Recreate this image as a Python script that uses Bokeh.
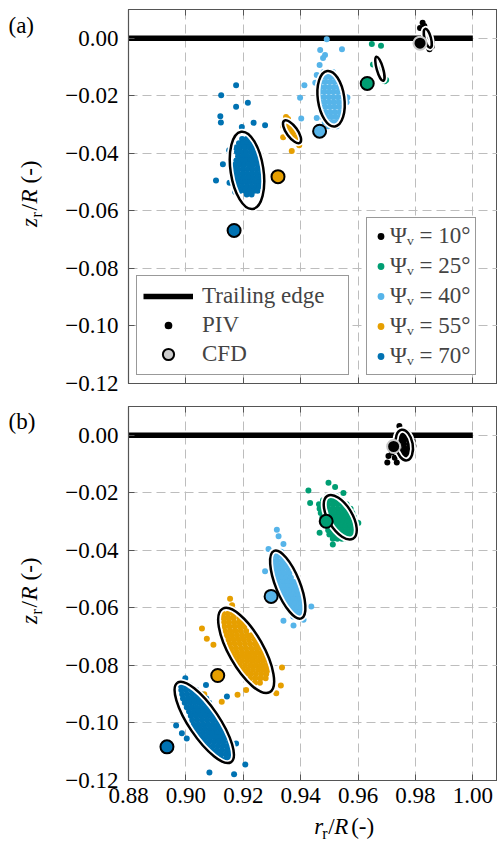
import math
from bokeh.plotting import figure
from bokeh.models import (Range1d, FixedTicker, CustomJSTickFormatter, LinearAxis,
                          Legend, LegendItem)
from bokeh.layouts import column, row
from bokeh.core.properties import value
from bokeh.embed import file_html
from bokeh.resources import INLINE

FONT = "Liberation Serif"
FS = "23px"

# ---------------- data ----------------
x_ticks = [0.88, 0.90, 0.92, 0.94, 0.96, 0.98, 1.00]
y_ticks = [-0.12, -0.10, -0.08, -0.06, -0.04, -0.02, 0.00]
angle_labels = ["Ψᵥ = 10°", "Ψᵥ = 25°", "Ψᵥ = 40°", "Ψᵥ = 55°", "Ψᵥ = 70°"]
colors = ["#000000", "#009e73", "#56b4e9", "#e69f00", "#0072b2"]

te_r = [0.88, 1.00]
te_z = [0.0, 0.0]

# CFD vortex positions (10, 25, 40, 55, 70 deg)
cfd_a_r = [0.9816, 0.9632, 0.9466, 0.9321, 0.9168]
cfd_a_z = [-0.0017, -0.0157, -0.0323, -0.0481, -0.0668]
cfd_b_r = [0.9724, 0.9489, 0.9297, 0.9111, 0.8934]
cfd_b_z = [-0.0039, -0.0299, -0.0560, -0.0835, -0.1083]

# PIV ellipses: centre r, centre z, major, minor, angle (deg)
ell_a_r = [0.9843, 0.9676, 0.9506, 0.9370, 0.9213]
ell_a_z = [0.0000, -0.0106, -0.0210, -0.0325, -0.0459]
ell_a_w = [0.0068, 0.0087, 0.0195, 0.0094, 0.0272]
ell_a_h = [0.0022, 0.0022, 0.0092, 0.0038, 0.0114]
ell_a_ang = [105, 106, 98, 126, 98.6]

ell_b_r = [0.9761, 0.9538, 0.9355, 0.9210, 0.9064]
ell_b_z = [-0.0034, -0.0285, -0.0519, -0.0748, -0.0998]
ell_b_w = [0.0108, 0.0174, 0.0254, 0.0334, 0.0334]
ell_b_h = [0.0059, 0.0084, 0.0084, 0.0120, 0.0106]
ell_b_ang = [100, 121, 112, 119.5, 124]

# PIV instantaneous vortex positions, panel (a)
piv_a10 = [(0.9825, 0.0054), (0.9831, 0.0043), (0.9816, 0.0036), (0.9840, 0.0023),
           (0.9851, 0.0006), (0.9857, -0.0013), (0.9857, -0.0029), (0.9849, -0.0038),
           (0.9834, 0.0029), (0.9844, -0.0006), (0.9830, 0.0011), (0.9838, -0.0020),
           (0.9846, 0.0012)]
piv_a25 = [(0.9667, -0.0069), (0.9670, -0.0083), (0.9677, -0.0097), (0.9681, -0.0110),
           (0.9684, -0.0124), (0.9688, -0.0138), (0.9693, -0.0149), (0.9648, -0.0020),
           (0.9680, -0.0026), (0.9652, -0.0091), (0.9698, -0.0145)]
piv_a40_rows = [
    (-0.0117, [0.9480, 0.9496, 0.9512]),
    (-0.0135, [0.9474, 0.9490, 0.9506, 0.9522]),
    (-0.0152, [0.9470, 0.9486, 0.9502, 0.9518, 0.9532]),
    (-0.0170, [0.9468, 0.9484, 0.9500, 0.9516, 0.9532, 0.9542]),
    (-0.0187, [0.9466, 0.9482, 0.9498, 0.9514, 0.9530, 0.9546]),
    (-0.0205, [0.9466, 0.9482, 0.9498, 0.9514, 0.9530, 0.9546, 0.9558]),
    (-0.0222, [0.9468, 0.9484, 0.9500, 0.9516, 0.9532, 0.9548, 0.9560]),
    (-0.0239, [0.9470, 0.9486, 0.9502, 0.9518, 0.9534, 0.9548]),
    (-0.0257, [0.9472, 0.9488, 0.9504, 0.9520, 0.9536, 0.9548]),
    (-0.0274, [0.9476, 0.9492, 0.9508, 0.9524, 0.9540]),
    (-0.0292, [0.9484, 0.9500, 0.9516, 0.9532]),
    (-0.0306, [0.9496, 0.9512, 0.9526]),
]
piv_a40_out = [(0.9491, -0.0003), (0.9468, -0.0041), (0.9485, -0.0058), (0.9544, -0.0038),
               (0.9466, -0.0093), (0.9451, -0.0155), (0.9413, -0.0163), (0.9398, -0.0207),
               (0.9402, -0.0279), (0.9563, -0.0206), (0.9456, -0.0128), (0.9456, -0.0277),
               (0.9478, -0.0069)]
piv_a55 = [(0.9349, -0.0288), (0.9360, -0.0299), (0.9353, -0.0313), (0.9367, -0.0313),
           (0.9363, -0.0326), (0.9377, -0.0326), (0.9370, -0.0340), (0.9384, -0.0344),
           (0.9381, -0.0358), (0.9391, -0.0361), (0.9356, -0.0281), (0.9339, -0.0344),
           (0.9369, -0.0392), (0.9339, -0.0306), (0.9349, -0.0274), (0.9395, -0.0372)]
piv_a70_rows = [
    (-0.0350, [0.9196, 0.9212, 0.9224]),
    (-0.0365, [0.9185, 0.9200, 0.9215, 0.9229]),
    (-0.0380, [0.9173, 0.9189, 0.9205, 0.9221, 0.9233]),
    (-0.0395, [0.9178, 0.9194, 0.9210, 0.9226, 0.9238]),
    (-0.0410, [0.9182, 0.9198, 0.9214, 0.9230, 0.9243]),
    (-0.0425, [0.9176, 0.9192, 0.9208, 0.9224, 0.9240, 0.9251]),
    (-0.0440, [0.9171, 0.9187, 0.9203, 0.9219, 0.9235, 0.9251, 0.9259]),
    (-0.0455, [0.9167, 0.9183, 0.9199, 0.9215, 0.9231, 0.9247, 0.9261]),
    (-0.0470, [0.9166, 0.9182, 0.9198, 0.9214, 0.9230, 0.9246, 0.9263]),
    (-0.0485, [0.9170, 0.9186, 0.9202, 0.9218, 0.9234, 0.9250, 0.9263]),
    (-0.0500, [0.9176, 0.9192, 0.9208, 0.9224, 0.9240, 0.9256]),
    (-0.0515, [0.9181, 0.9197, 0.9213, 0.9229, 0.9245, 0.9257]),
    (-0.0530, [0.9190, 0.9206, 0.9222, 0.9238, 0.9250]),
    (-0.0543, [0.9212, 0.9229]),
]
piv_a70_out = [(0.9175, -0.0163), (0.9123, -0.0198), (0.9175, -0.0238), (0.9216, -0.0224),
               (0.9120, -0.0271), (0.9122, -0.0293), (0.9195, -0.0308), (0.9236, -0.0294),
               (0.9276, -0.0302), (0.9129, -0.0438), (0.9105, -0.0494), (0.9152, -0.0502),
               (0.9151, -0.0389), (0.9172, -0.0534)]

# PIV instantaneous vortex positions, panel (b)
piv_b10 = [(0.9744, 0.0032), (0.9758, 0.0012), (0.9772, 0.0010), (0.9750, -0.0004),
           (0.9766, -0.0002), (0.9782, -0.0005), (0.9745, -0.0020), (0.9790, -0.0020),
           (0.9742, -0.0038), (0.9793, -0.0037), (0.9747, -0.0055), (0.9790, -0.0055),
           (0.9755, -0.0070), (0.9782, -0.0072), (0.9768, -0.0080), (0.9706, -0.0072),
           (0.9702, -0.0095), (0.9735, -0.0095), (0.9718, -0.0060), (0.9728, -0.0078),
           (0.9760, -0.0015), (0.9775, -0.0015), (0.9760, -0.0030), (0.9778, -0.0030),
           (0.9762, -0.0045), (0.9778, -0.0045), (0.9765, -0.0060), (0.9780, -0.0060),
           (0.9770, 0.0000), (0.9770, -0.0075)]
piv_b25_rows = [
    (-0.0212, [0.9492, 0.9508, 0.9524]),
    (-0.0226, [0.9478, 0.9494, 0.9510, 0.9526, 0.9542]),
    (-0.0240, [0.9464, 0.9480, 0.9496, 0.9512, 0.9528, 0.9544, 0.9560]),
    (-0.0255, [0.9466, 0.9482, 0.9498, 0.9514, 0.9530, 0.9546, 0.9562, 0.9574]),
    (-0.0270, [0.9470, 0.9486, 0.9502, 0.9518, 0.9534, 0.9550, 0.9566, 0.9580]),
    (-0.0285, [0.9476, 0.9492, 0.9508, 0.9524, 0.9540, 0.9556, 0.9572, 0.9586]),
    (-0.0300, [0.9484, 0.9500, 0.9516, 0.9532, 0.9548, 0.9564, 0.9580, 0.9590]),
    (-0.0315, [0.9492, 0.9508, 0.9524, 0.9540, 0.9556, 0.9572, 0.9588]),
    (-0.0330, [0.9496, 0.9512, 0.9528, 0.9544, 0.9560, 0.9576]),
    (-0.0345, [0.9500, 0.9516, 0.9532, 0.9548, 0.9564, 0.9578]),
    (-0.0360, [0.9512, 0.9528, 0.9544, 0.9560, 0.9574]),
]
piv_b25_out = [(0.9497, -0.0165), (0.9427, -0.0192), (0.9433, -0.0235), (0.9466, -0.0339),
               (0.9512, -0.0380), (0.9601, -0.0305), (0.9549, -0.0201), (0.9520, -0.0180)]
piv_b40_rows = [
    (-0.0405, [0.9300, 0.9316, 0.9332]),
    (-0.0420, [0.9300, 0.9317, 0.9334, 0.9342]),
    (-0.0435, [0.9302, 0.9318, 0.9334, 0.9348]),
    (-0.0450, [0.9304, 0.9320, 0.9336, 0.9352]),
    (-0.0465, [0.9307, 0.9323, 0.9339, 0.9356]),
    (-0.0480, [0.9312, 0.9328, 0.9344, 0.9361]),
    (-0.0495, [0.9318, 0.9334, 0.9350, 0.9366]),
    (-0.0510, [0.9322, 0.9338, 0.9354, 0.9370, 0.9378]),
    (-0.0525, [0.9326, 0.9342, 0.9358, 0.9374, 0.9384]),
    (-0.0540, [0.9330, 0.9346, 0.9362, 0.9378, 0.9389]),
    (-0.0555, [0.9336, 0.9352, 0.9368, 0.9384, 0.9393]),
    (-0.0570, [0.9342, 0.9358, 0.9374, 0.9390, 0.9398]),
    (-0.0585, [0.9348, 0.9364, 0.9380, 0.9396, 0.9402]),
    (-0.0600, [0.9356, 0.9372, 0.9388, 0.9404]),
    (-0.0615, [0.9365, 0.9381, 0.9397]),
    (-0.0630, [0.9374, 0.9390, 0.9402]),
]
piv_b40_out = [(0.9317, -0.0328), (0.9323, -0.0351), (0.9340, -0.0378), (0.9288, -0.0395),
               (0.9276, -0.0473), (0.9437, -0.0595), (0.9410, -0.0641), (0.9340, -0.0645),
               (0.9375, -0.0661), (0.9384, -0.0624)]
piv_b55_rows = [
    (-0.0620, [0.9130, 0.9147, 0.9165, 0.9182]),
    (-0.0635, [0.9131, 0.9148, 0.9166, 0.9186]),
    (-0.0650, [0.9133, 0.9150, 0.9168, 0.9185, 0.9197]),
    (-0.0665, [0.9134, 0.9152, 0.9170, 0.9188, 0.9204]),
    (-0.0680, [0.9137, 0.9155, 0.9173, 0.9191, 0.9210]),
    (-0.0695, [0.9142, 0.9160, 0.9178, 0.9196, 0.9214, 0.9228]),
    (-0.0710, [0.9148, 0.9166, 0.9184, 0.9202, 0.9220, 0.9240]),
    (-0.0725, [0.9152, 0.9170, 0.9188, 0.9206, 0.9224, 0.9242, 0.9254]),
    (-0.0740, [0.9156, 0.9174, 0.9192, 0.9210, 0.9228, 0.9246, 0.9264]),
    (-0.0755, [0.9160, 0.9178, 0.9196, 0.9214, 0.9232, 0.9250, 0.9268]),
    (-0.0770, [0.9168, 0.9186, 0.9204, 0.9222, 0.9240, 0.9258, 0.9276]),
    (-0.0785, [0.9178, 0.9196, 0.9214, 0.9232, 0.9250, 0.9268, 0.9286]),
    (-0.0800, [0.9188, 0.9206, 0.9224, 0.9242, 0.9260, 0.9278, 0.9291]),
    (-0.0815, [0.9198, 0.9216, 0.9234, 0.9252, 0.9270, 0.9288]),
    (-0.0830, [0.9208, 0.9226, 0.9244, 0.9262, 0.9280]),
    (-0.0845, [0.9224, 0.9242, 0.9260, 0.9278]),
    (-0.0860, [0.9240, 0.9258]),
]
piv_b55_out = [(0.9154, -0.0568), (0.9161, -0.0591), (0.9056, -0.0672), (0.9073, -0.0707),
               (0.9096, -0.0728), (0.9335, -0.0807), (0.9331, -0.0870), (0.9315, -0.0897),
               (0.9180, -0.0902), (0.9210, -0.0885), (0.9125, -0.0926), (0.9064, -0.0900)]
piv_b70_rows = [
    (-0.0870, [0.8982, 0.8998, 0.9014]),
    (-0.0885, [0.8984, 0.9001, 0.9019, 0.9036]),
    (-0.0900, [0.8987, 0.9004, 0.9021, 0.9038, 0.9053]),
    (-0.0915, [0.8990, 0.9007, 0.9024, 0.9041, 0.9058, 0.9071]),
    (-0.0930, [0.8996, 0.9013, 0.9030, 0.9047, 0.9064, 0.9081]),
    (-0.0945, [0.9003, 0.9020, 0.9037, 0.9054, 0.9071, 0.9088]),
    (-0.0960, [0.9011, 0.9028, 0.9045, 0.9062, 0.9079, 0.9096]),
    (-0.0975, [0.9017, 0.9034, 0.9051, 0.9068, 0.9085, 0.9102]),
    (-0.0990, [0.9022, 0.9039, 0.9056, 0.9073, 0.9090, 0.9107, 0.9118]),
    (-0.1005, [0.9027, 0.9044, 0.9061, 0.9078, 0.9095, 0.9112, 0.9126]),
    (-0.1020, [0.9033, 0.9050, 0.9067, 0.9084, 0.9101, 0.9118, 0.9134]),
    (-0.1035, [0.9042, 0.9059, 0.9076, 0.9093, 0.9110, 0.9127, 0.9141]),
    (-0.1050, [0.9052, 0.9069, 0.9086, 0.9103, 0.9120, 0.9137, 0.9147]),
    (-0.1065, [0.9063, 0.9080, 0.9097, 0.9114, 0.9131, 0.9150]),
    (-0.1080, [0.9077, 0.9094, 0.9111, 0.9128, 0.9145, 0.9155]),
    (-0.1095, [0.9092, 0.9109, 0.9126, 0.9143, 0.9157]),
    (-0.1110, [0.9105, 0.9122, 0.9139, 0.9155]),
    (-0.1125, [0.9121, 0.9139, 0.9152]),
]
piv_b70_out = [(0.8966, -0.1009), (0.8986, -0.1036), (0.9003, -0.1054), (0.9070, -0.0868),
               (0.9143, -0.0908), (0.9082, -0.1172), (0.9168, -0.1178), (0.9207, -0.1144),
               (0.9175, -0.1071), (0.8998, -0.0845)]


def pts(rows=(), extra=()):
    xs, ys = [], []
    for z, rs in rows:
        for r in rs:
            xs.append(r)
            ys.append(z)
    for r, z in extra:
        xs.append(r)
        ys.append(z)
    return xs, ys


piv_a = [pts(extra=piv_a10), pts(extra=piv_a25), pts(piv_a40_rows, piv_a40_out),
         pts(extra=piv_a55), pts(piv_a70_rows, piv_a70_out)]
piv_b = [pts(extra=piv_b10), pts(piv_b25_rows, piv_b25_out), pts(piv_b40_rows, piv_b40_out),
         pts(piv_b55_rows, piv_b55_out), pts(piv_b70_rows, piv_b70_out)]

# ---------------- styling helpers ----------------
AX = "#555555"
fmt = CustomJSTickFormatter(code="return (tick < -1e-9 ? '\\u2212' : '') + Math.abs(tick).toFixed(2);")
SW = 62          # width of the text strip on the left
W = 497 - SW     # width of the two plot panels


def make_panel(piv, cfd_r, cfd_z, er, ez, ew, eh, ea, show_x, height, top_b, bot_b):
    p = figure(width=W, height=height, x_range=Range1d(0.88, 1.0086),
               y_range=Range1d(-0.12, 0.01), output_backend="svg", toolbar_location=None,
               title=None,
               min_border_left=128 - SW, min_border_right=0, min_border_top=top_b,
               min_border_bottom=bot_b, outline_line_color=AX, outline_line_width=1,
               background_fill_color="white", border_fill_color="white")
    for ax in (p.xaxis[0], p.yaxis[0]):
        ax.axis_line_color = AX
        ax.axis_line_width = 1.2
        ax.major_tick_line_color = AX
        ax.major_tick_in = 6
        ax.major_tick_out = 0
        ax.minor_tick_in = 0
        ax.minor_tick_out = 0
        ax.major_label_text_font = FONT
        ax.major_label_text_font_size = FS
        ax.major_label_text_color = "black"
        ax.formatter = fmt
    p.xaxis.ticker = FixedTicker(ticks=x_ticks)
    p.yaxis.ticker = FixedTicker(ticks=y_ticks)
    p.xaxis.major_label_standoff = 7
    p.yaxis.major_label_standoff = 10
    if not show_x:
        p.xaxis.major_label_text_font_size = "0px"
        p.xaxis.major_label_text_color = None
        p.xaxis.major_label_standoff = 0
    top = LinearAxis(ticker=FixedTicker(ticks=x_ticks), major_tick_in=6, major_tick_out=0,
                     minor_tick_in=0, minor_tick_out=0, major_label_text_font_size="0px",
                     major_label_text_color=None, major_label_standoff=0,
                     axis_line_color=AX, major_tick_line_color=AX)
    p.add_layout(top, "above")
    p.xgrid.ticker = FixedTicker(ticks=x_ticks)
    p.ygrid.ticker = FixedTicker(ticks=y_ticks)
    p.grid.grid_line_color = "#bdbdbd"
    p.grid.grid_line_dash = "9 5"
    p.grid.grid_line_width = 1

    te = p.line(te_r, te_z, line_width=5.5, line_color="black")
    pr = []
    for (xs, ys), c in zip(piv, colors):
        pr.append(p.scatter(xs, ys, size=6, fill_color=c, line_color=None))
    p.ellipse(er, ez, width=ew, height=eh, angle=ea, angle_units="deg",
              fill_color=None, line_color="white", line_width=6)
    p.ellipse(er, ez, width=ew, height=eh, angle=ea, angle_units="deg",
              fill_color=None, line_color="black", line_width=2.5)
    edge = ["#c8c8c8", "black", "black", "black", "black"]
    p.scatter(cfd_r, cfd_z, size=13, fill_color=colors, line_color=edge, line_width=2)
    return p, te, pr


# panel (a): 9 + 374 + 15 = 398 ; panel (b): 8 + 374 + 33 = 415 ; title strip 29
pa, te_a, pr_a = make_panel(piv_a, cfd_a_r, cfd_a_z, ell_a_r, ell_a_z, ell_a_w, ell_a_h,
                            ell_a_ang, False, 398, 9, 15)
pb, te_b, pr_b = make_panel(piv_b, cfd_b_r, cfd_b_z, ell_b_r, ell_b_z, ell_b_w, ell_b_h,
                            ell_b_ang, True, 415, 8, 33)

# legend proxies (not visible in the data area)
nan = float("nan")
r_piv_leg = pa.scatter(x=[nan], y=[nan], size=6, fill_color="black", line_color="white",
                       line_width=3.5)
r_cfd_leg = pa.scatter(x=[nan], y=[nan], size=13, fill_color="#cccccc", line_color="black",
                       line_width=2)
leg1 = Legend(items=[LegendItem(label="Trailing edge", renderers=[te_a]),
                     LegendItem(label="PIV", renderers=[r_piv_leg]),
                     LegendItem(label="CFD", renderers=[r_cfd_leg])],
              location=(8, 8), margin=0, padding=6, spacing=1, glyph_width=50,
              glyph_height=28, label_standoff=9, label_width=140, label_text_font=FONT,
              label_text_font_size=FS, border_line_color="#333333", border_line_width=1,
              background_fill_color="white", background_fill_alpha=1)
leg2 = Legend(items=[LegendItem(label=lab, renderers=[r]) for lab, r in zip(angle_labels, pr_a)],
              location=(238, 8), margin=0, padding=5, spacing=4, glyph_width=17,
              glyph_height=24, label_standoff=1, label_text_font=FONT,
              label_text_font_size=FS, border_line_color="#333333", border_line_width=1,
              background_fill_color="white", background_fill_alpha=1)
pa.add_layout(leg1, "center")
pa.add_layout(leg2, "center")


# ---------------- text strips (panel tags and axis titles) ----------------
def strip(w, h):
    s = figure(width=w, height=h, x_range=Range1d(0, w), y_range=Range1d(0, h),
               x_axis_type=None, y_axis_type=None, toolbar_location=None, title=None,
               output_backend="svg", min_border=0, outline_line_color=None,
               background_fill_color="white", border_fill_color="white")
    return s


def put(s, x, y, txt, size=FS, style="normal", angle=0.0):
    # (x, y) is the centre line of the text (middle baseline)
    s.text(x=[x], y=[y], text=[txt], text_font=value(FONT), text_font_size=value(size),
           text_font_style=style, text_baseline="middle", text_align="left",
           angle=angle, text_color="black")


# axis title pieces: (text, offset along the line, subscript drop, size, style)
title_pieces = [("z", 0, 0, FS, "italic"), ("r", 9.5, 6.5, "16px", "normal"),
                ("/", 16.5, 0, FS, "normal"), ("R", 23.5, 0, FS, "italic"),
                ("(-)", 43.5, 0, FS, "normal")]

left = strip(SW, 842)
put(left, 8, 817, "(a)")
put(left, 8, 421, "(b)")
for base in (615.5, 218.5):
    for txt, off, drop, fs, st in title_pieces:
        put(left, 29 + drop, base + off, txt, size=fs, style=st, angle=math.pi / 2)

bottom = strip(W, 29)
x0 = 281 - SW
for txt, off, drop, fs, st in title_pieces:
    put(bottom, x0 + off, 16 - drop, "r" if txt == "z" else txt, size=fs, style=st)

layout = row(left, column(pa, pb, bottom, spacing=0), spacing=0)
open("out.html", "w", encoding="utf-8").write(file_html(layout, INLINE))
